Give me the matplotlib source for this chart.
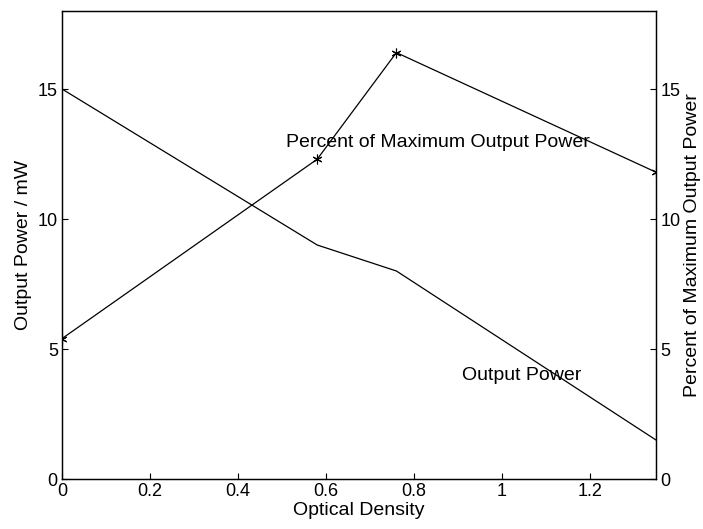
import numpy as np
import matplotlib.pyplot as plt

plt.rcParams['font.family'] = ['Liberation Sans', 'DejaVu Sans']

# optical density of the filters
density = [0, 0.58, 0.76, 1.35]
# measured output power (mW)
power = [15.0, 9.0, 8.0, 1.5]
# percent of maximum output power
percent = [5.4, 12.3, 16.4, 11.8]

fig = plt.figure(figsize=(7.03, 5.29), dpi=100)
ax = fig.add_axes([62/703, 1-479/529, (656-62)/703, (479-11)/529])
ax2 = ax.twinx()

ax.plot(density, power, color='black', lw=0.9)
# asterisk markers, like the old matlab '*-' style
ax2.plot(density, percent, color='black', lw=0.9, marker=(6, 2, 0), ms=7,
         mew=0.8)

ax.set_xlim(0, 1.35)
ax.set_ylim(0, 18)
ax2.set_ylim(0, 18)
ax.set_xticks([0, 0.2, 0.4, 0.6, 0.8, 1, 1.2])
ax.set_xticklabels(['0', '0.2', '0.4', '0.6', '0.8', '1', '1.2'])
ax.set_yticks([0, 5, 10, 15])
ax2.set_yticks([0, 5, 10, 15])

for a in (ax, ax2):
    a.tick_params(direction='in', length=4, width=0.8, labelsize=13, pad=3)
    for s in a.spines.values():
        s.set_linewidth(0.9)

ax.set_xlabel('Optical Density', fontsize=14, labelpad=1)
ax.set_ylabel('Output Power / mW', fontsize=14, labelpad=4)
ax2.set_ylabel('Percent of Maximum Output Power', fontsize=14, labelpad=3)

ax2.text(0.51, 12.96, 'Percent of Maximum Output Power', fontsize=14,
         ha='left', va='center')
ax.text(0.909, 4.0, 'Output Power', fontsize=14, ha='left', va='center')

fig.savefig('out.png', dpi=100)
